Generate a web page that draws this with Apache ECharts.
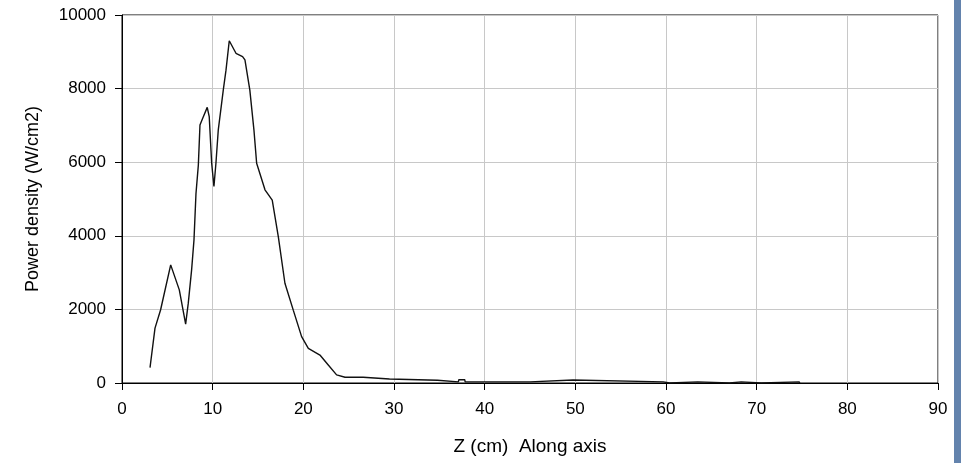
<!DOCTYPE html>
<html>
<head>
<meta charset="utf-8">
<script src="https://cdn.jsdelivr.net/npm/echarts@6/dist/echarts.min.js"></script>
<style>
  html, body { margin: 0; padding: 0; background: #fff; }
  #chart { width: 961px; height: 463px; }
</style>
</head>
<body>
<div id="chart"></div>
<script>
// position along axis (cm)
var zPos = [
  3.09, 3.64, 4.26, 5.37, 6.32, 7.02, 7.31, 7.68, 7.94, 8.16,
  8.42, 8.6, 8.89, 9.4, 9.62, 9.89, 10.14, 10.36, 10.62, 11.17,
  11.47, 11.83, 12.57, 13.3, 13.56, 14.1, 14.55, 14.85, 15.77, 16.57,
  17.24, 17.97, 18.89, 19.81, 20.55, 21.83, 22.75, 23.67, 24.6, 26.6,
  26.8, 29.5, 29.6, 34.8, 34.9, 37.1, 37.15, 37.8, 37.85, 45.0,
  45.05, 49.75, 49.8, 59.7, 59.75, 60.4, 60.45, 63.5, 63.55, 67.0,
  67.05, 68.3, 68.35, 70.5, 70.55, 74.7, 74.75
];
// power density (W/cm2)
var power = [
  420, 1490, 1990, 3210, 2530, 1600, 2170, 3080, 3890, 5150,
  5920, 7010, 7190, 7490, 7240, 5970, 5340, 5970, 6880, 7960,
  8500, 9300, 8960, 8870, 8780, 7960, 6880, 5970, 5250, 4970,
  3980, 2710, 1980, 1260, 940, 760, 490, 220, 155, 155,
  109, 109, 73, 73, 30, 30, 90, 90, 30, 30,
  80, 80, 30, 30, 0, 0, 30, 30, 0, 0,
  30, 30, 0, 0, 30, 30, 0
];
var xTitle = 'Z (cm)  Along axis';
var yTitle = 'Power density (W/cm2)';

var chart = echarts.init(document.getElementById('chart'));
var pts = zPos.map(function (z, i) { return [z, power[i]]; });

chart.setOption({
  backgroundColor: '#fff',
  animation: false,
  textStyle: { fontFamily: 'Liberation Sans, Arial, sans-serif' },
  grid: {
    left: 122, right: 23, top: 15, bottom: 80,
    show: true, borderColor: '#000', borderWidth: 1
  },
  xAxis: {
    type: 'value',
    min: 0, max: 90, interval: 10,
    name: xTitle,
    nameLocation: 'middle',
    nameGap: 54,
    nameTextStyle: { color: '#000', fontSize: 19 },
    axisLine: { lineStyle: { color: '#000', width: 1 } },
    axisTick: { show: true, length: 7, lineStyle: { color: '#000' } },
    axisLabel: { color: '#000', fontSize: 17, margin: 18 },
    splitLine: { show: true, lineStyle: { color: '#c8c8c8', width: 1 } }
  },
  yAxis: {
    type: 'value',
    min: 0, max: 10000, interval: 2000,
    name: yTitle,
    nameLocation: 'middle',
    nameGap: 80,
    nameTextStyle: { color: '#000', fontSize: 18 },
    axisLine: { show: true, lineStyle: { color: '#000', width: 1 } },
    axisTick: { show: true, length: 7, lineStyle: { color: '#000' } },
    axisLabel: {
      color: '#000', fontSize: 17, margin: 16,
      formatter: function (v) { return String(v); }
    },
    splitLine: { show: true, lineStyle: { color: '#c8c8c8', width: 1 } }
  },
  graphic: [{
    type: 'rect',
    shape: { x: 954, y: 0, width: 7, height: 463 },
    style: { fill: '#6383ad' },
    silent: true
  }],
  series: [{
    type: 'line',
    data: pts,
    showSymbol: false,
    smooth: false,
    lineStyle: { color: '#111', width: 1.4 }
  }]
});
</script>
</body>
</html>
